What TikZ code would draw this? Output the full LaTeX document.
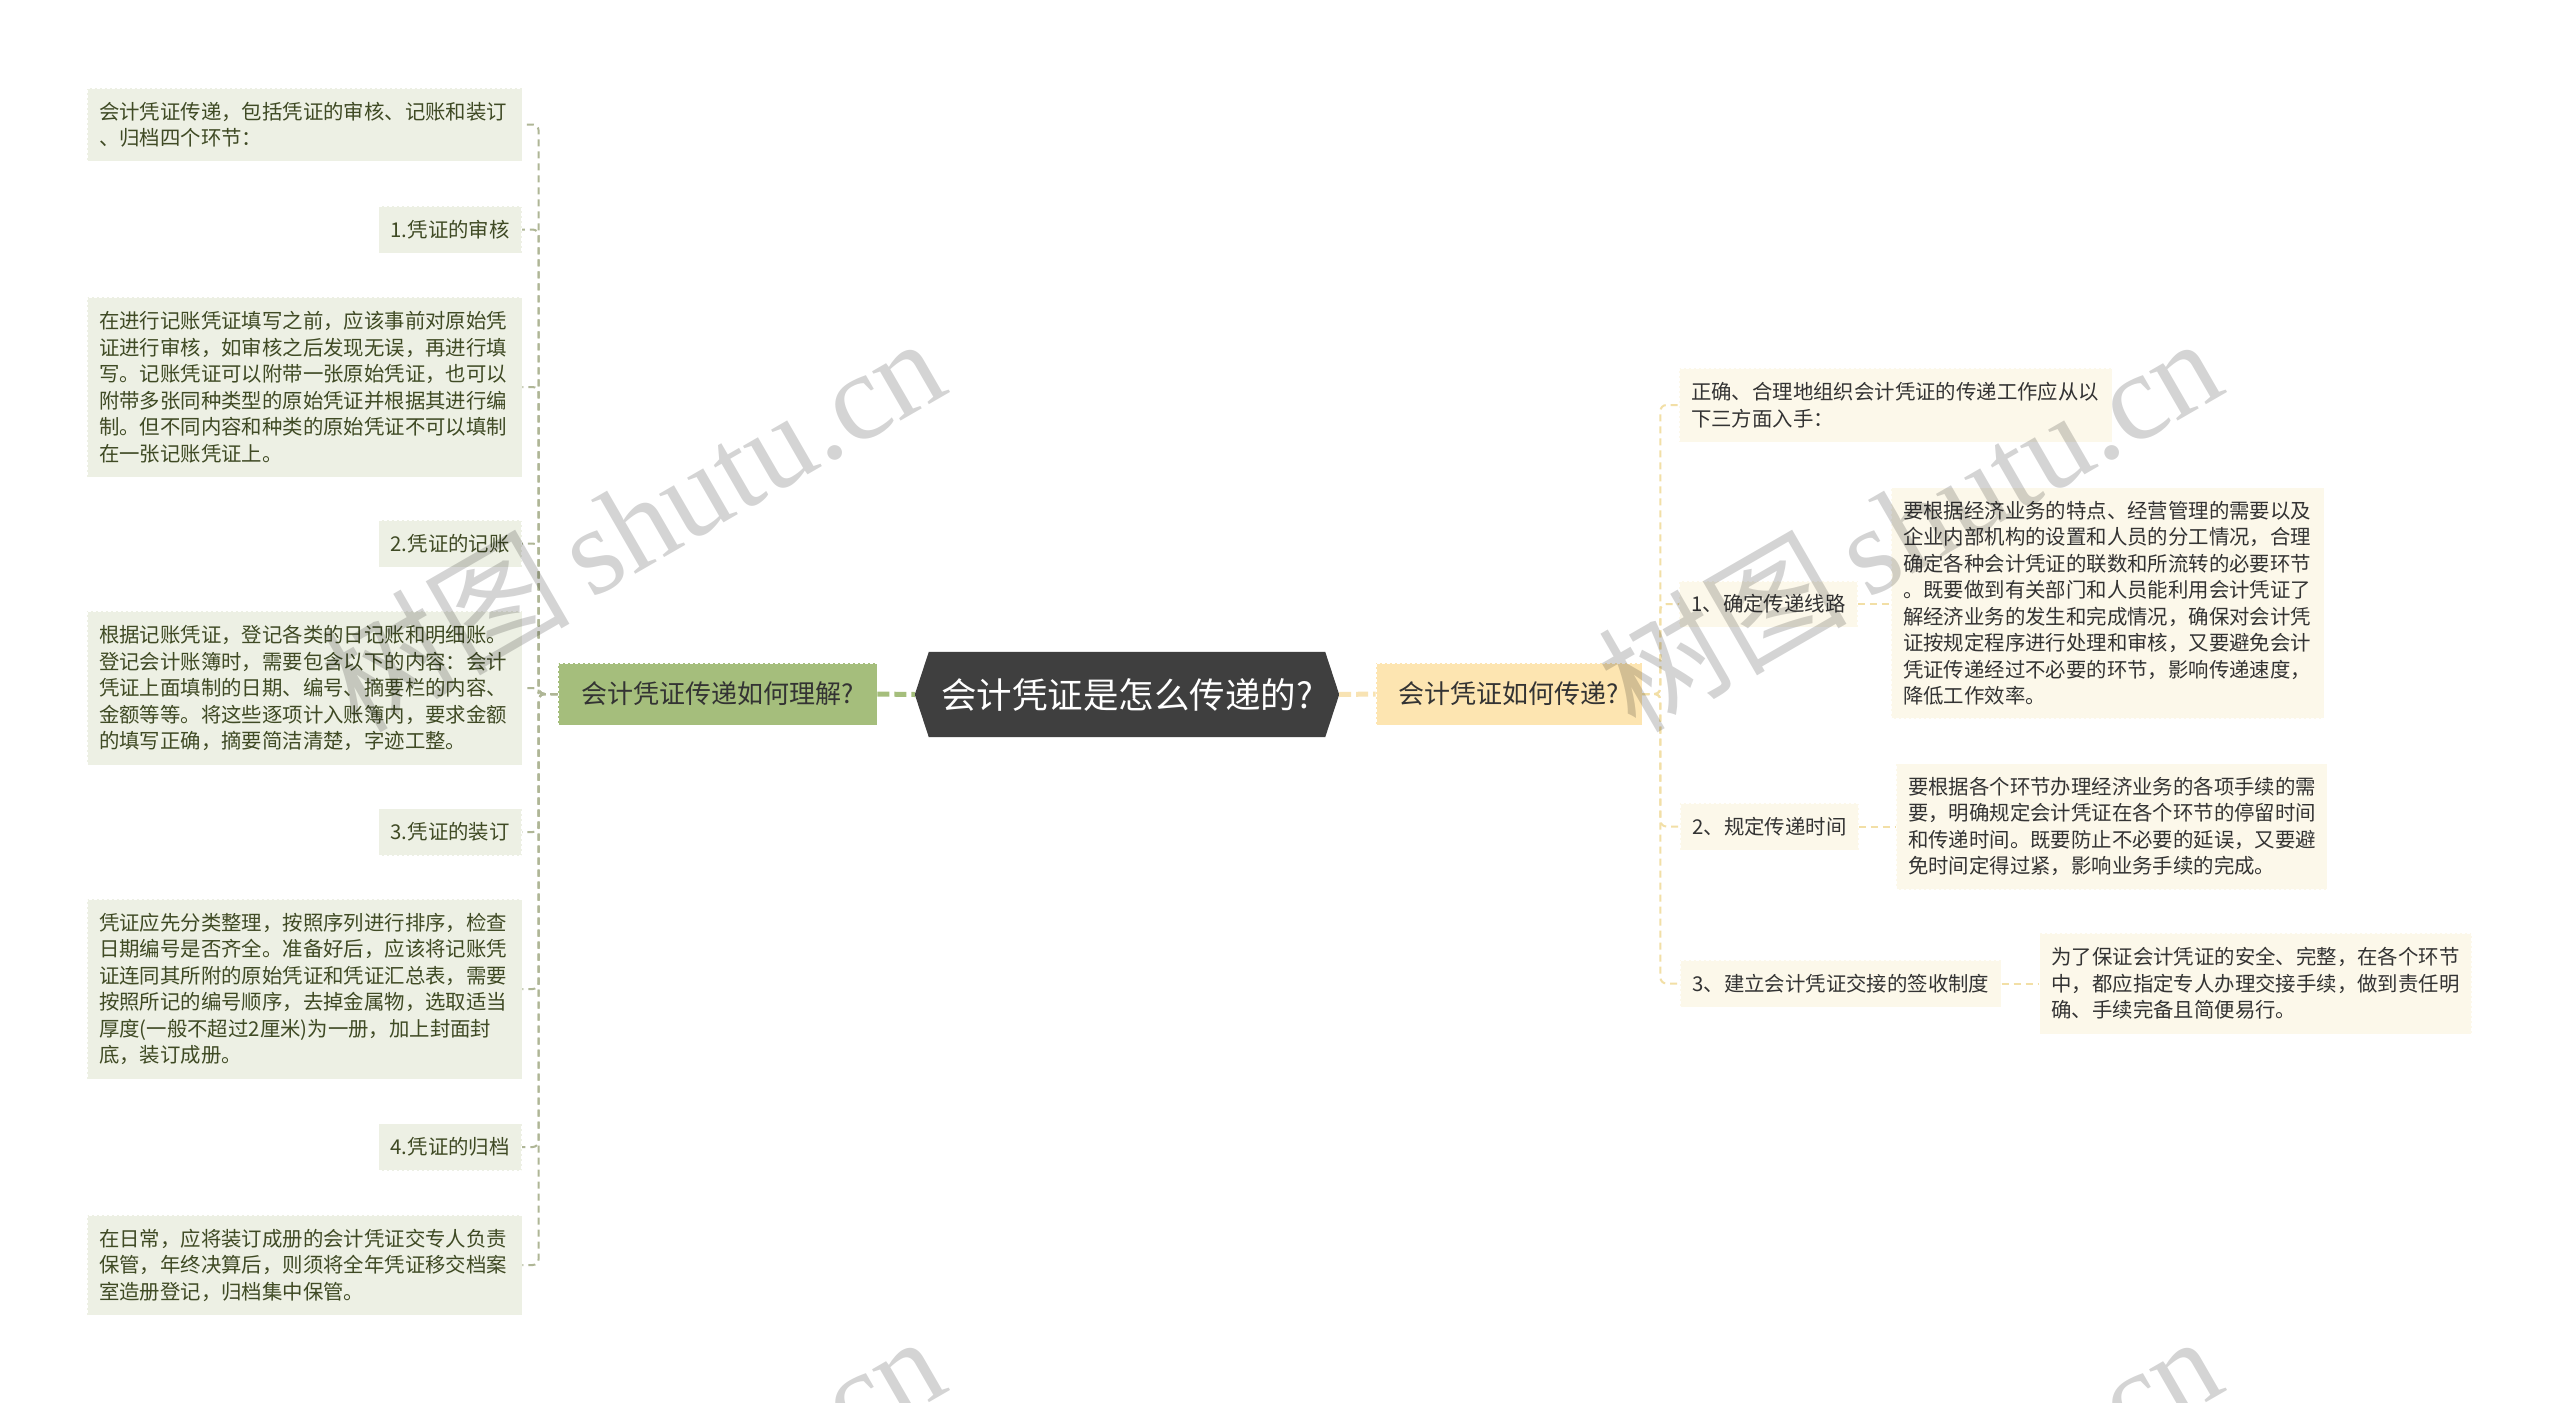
\documentclass[tikz,border=0pt]{standalone}
\usepackage{fontspec}
\setmainfont{Noto Sans CJK SC}
\newfontfamily\wmlatin{Liberation Serif}
\usetikzlibrary{calc}
\pgfdeclarelayer{bg}
\pgfsetlayers{bg,main}
\definecolor{lfill}{HTML}{EDF0E4}
\definecolor{ltext}{HTML}{3F4A24}
\definecolor{rfill}{HTML}{FCF8EA}
\definecolor{rtext}{HTML}{333333}
\definecolor{gfill}{HTML}{A5BE7C}
\definecolor{yfill}{HTML}{FDE5B1}
\definecolor{rootfill}{HTML}{3F3F3F}
\definecolor{lline}{HTML}{AFB696}
\definecolor{rline}{HTML}{F2DFA6}
\definecolor{gline}{HTML}{A5BE7C}
\definecolor{yline}{HTML}{F8E3B3}
\newcommand\fsmall{\fontsize{20.4}{26.5}\selectfont}
\newcommand\fmid{\fontsize{26}{30}\selectfont}
\newcommand\fbig{\fontsize{35.5}{40}\selectfont}
\newcommand\fwm{\fontsize{124}{136}\selectfont}
\begin{document}
\begin{tikzpicture}[x=1pt,y=-1pt,
  lbox/.style={fill=lfill, text=ltext, font=\fsmall, inner xsep=12pt, inner ysep=0pt,
    align=left, draw=white, line width=0.8pt, dash pattern=on 3pt off 2pt},
  rbox/.style={lbox, fill=rfill, text=rtext},
  lshort/.style={lbox, anchor=east, minimum height=47pt, align=right},
  rshort/.style={rbox, anchor=west, minimum height=47pt},
  mainbox/.style={font=\fmid, text=rtext, inner xsep=11pt, inner ysep=0pt,
    minimum height=62pt, draw=white, line width=0.8pt, dash pattern=on 3pt off 2pt},
  rootnode/.style={text=white, font=\fbig, minimum width=396pt, minimum height=85pt, inner sep=0pt},
  lconn/.style={draw=lline, line width=2pt, dash pattern=on 7pt off 5pt, rounded corners=6pt},
  rconn/.style={draw=rline, line width=2pt, dash pattern=on 7pt off 5pt, rounded corners=6pt},
  gconn/.style={draw=gline, line width=5pt, dash pattern=on 12pt off 5pt},
  yconn/.style={draw=yline, line width=5pt, dash pattern=on 12pt off 5pt},
  wm/.style={text=black, text opacity=0.17, font=\fwm, inner sep=0pt, rotate=30}
]
\useasboundingbox (0,0) rectangle (2560,1403);
\begin{pgfonlayer}{bg}
\fill[white] (0,0) rectangle (2560,1403);
\end{pgfonlayer}

% root
\node[rootnode] (root) at (1127,694.5) {会计凭证是怎么传递的?};
\coordinate (rootL) at ([xshift=-14pt]root.west);
\coordinate (rootR) at ([xshift=14pt]root.east);
\begin{pgfonlayer}{bg}
\fill[rootfill] (root.north west) -- (root.north east) -- (rootR) -- (root.south east)
  -- (root.south west) -- (rootL) -- cycle;
\end{pgfonlayer}

% main branches
\node[mainbox, fill=gfill, minimum width=319pt] (L) at (717.5,694) {会计凭证传递如何理解?};
\node[mainbox, fill=yfill, minimum width=266pt] (R) at (1509,694) {会计凭证如何传递?};
\draw[gconn] (L.east) -- (rootL);
\draw[yconn] (rootR) -- (R.west);

% left children
\node[lbox, text width=411pt, minimum height=73pt] (A) at (304.5,124.5)
  {会计凭证传递，包括凭证的审核、记账和装订\\、归档四个环节：};
\node[lshort] (a1) at (522,229.5) {1.凭证的审核};
\node[lbox, text width=411pt, minimum height=180pt] (B) at (304.5,387)
  {在进行记账凭证填写之前，应该事前对原始凭\\证进行审核，如审核之后发现无误，再进行填\\写。记账凭证可以附带一张原始凭证，也可以\\附带多张同种类型的原始凭证并根据其进行编\\制。但不同内容和种类的原始凭证不可以填制\\在一张记账凭证上。};
\node[lshort] (a2) at (522,543.5) {2.凭证的记账};
\node[lbox, text width=411pt, minimum height=154pt] (C) at (304.5,688)
  {根据记账凭证，登记各类的日记账和明细账。\\登记会计账簿时，需要包含以下的内容：会计\\凭证上面填制的日期、编号、摘要栏的内容、\\金额等等。将这些逐项计入账簿内，要求金额\\的填写正确，摘要简洁清楚，字迹工整。};
\node[lshort] (a3) at (522,832) {3.凭证的装订};
\node[lbox, text width=411pt, minimum height=180pt] (D) at (304.5,989)
  {凭证应先分类整理，按照序列进行排序，检查\\日期编号是否齐全。准备好后，应该将记账凭\\证连同其所附的原始凭证和凭证汇总表，需要\\按照所记的编号顺序，去掉金属物，选取适当\\厚度(一般不超过2厘米)为一册，加上封面封\\底，装订成册。};
\node[lshort] (a4) at (522,1147) {4.凭证的归档};
\node[lbox, text width=411pt, minimum height=100pt] (E) at (304.5,1265)
  {在日常，应将装订成册的会计凭证交专人负责\\保管，年终决算后，则须将全年凭证移交档案\\室造册登记，归档集中保管。};

\foreach \n in {A,a1,B,a2,C,a3,D,a4,E}
  \draw[lconn] (L.west) -- ++(-19,0) |- (\n.east);

% right children
\node[rbox, text width=409pt, minimum height=74pt] (r0) at (1895.5,405)
  {正确、合理地组织会计凭证的传递工作应从以\\下三方面入手：};
\node[rshort, minimum height=46pt] (r1) at (1679,604) {1、确定传递线路};
\node[rbox, text width=409pt, minimum height=231pt] (r1t) at (2107.5,603)
  {要根据经济业务的特点、经营管理的需要以及\\企业内部机构的设置和人员的分工情况，合理\\确定各种会计凭证的联数和所流转的必要环节\\。既要做到有关部门和人员能利用会计凭证了\\解经济业务的发生和完成情况，确保对会计凭\\证按规定程序进行处理和审核，又要避免会计\\凭证传递经过不必要的环节，影响传递速度，\\降低工作效率。};
\node[rshort] (r2) at (1680,826.5) {2、规定传递时间};
\node[rbox, text width=407pt, minimum height=126pt] (r2t) at (2111.5,826.5)
  {要根据各个环节办理经济业务的各项手续的需\\要，明确规定会计凭证在各个环节的停留时间\\和传递时间。既要防止不必要的延误，又要避\\免时间定得过紧，影响业务手续的完成。};
\node[rshort] (r3) at (1680,983.5) {3、建立会计凭证交接的签收制度};
\node[rbox, text width=408pt, minimum height=101pt] (r3t) at (2255.5,983.5)
  {为了保证会计凭证的安全、完整，在各个环节\\中，都应指定专人办理交接手续，做到责任明\\确、手续完备且简便易行。};

\foreach \n in {r0,r1,r2,r3}
  \draw[rconn] (R.east) -- ++(18,0) |- (\n.west);
\draw[rconn] (r1.east) -- (r1t.west |- r1.east);
\draw[rconn] (r2.east) -- (r2t.west |- r2.east);
\draw[rconn] (r3.east) -- (r3t.west |- r3.east);

% watermarks
\begin{scope}
\clip (0,0) rectangle (2560,1403);
\node[wm] (wm1) at (632,522) {树图\,{\wmlatin shutu.cn}};
\node[wm] (wm2) at (1909,522) {树图\,{\wmlatin shutu.cn}};
\node[wm] (wm3) at (632,1520) {树图\,{\wmlatin shutu.cn}};
\node[wm] (wm4) at (1909,1520) {树图\,{\wmlatin shutu.cn}};
\end{scope}
\end{tikzpicture}
\end{document}
